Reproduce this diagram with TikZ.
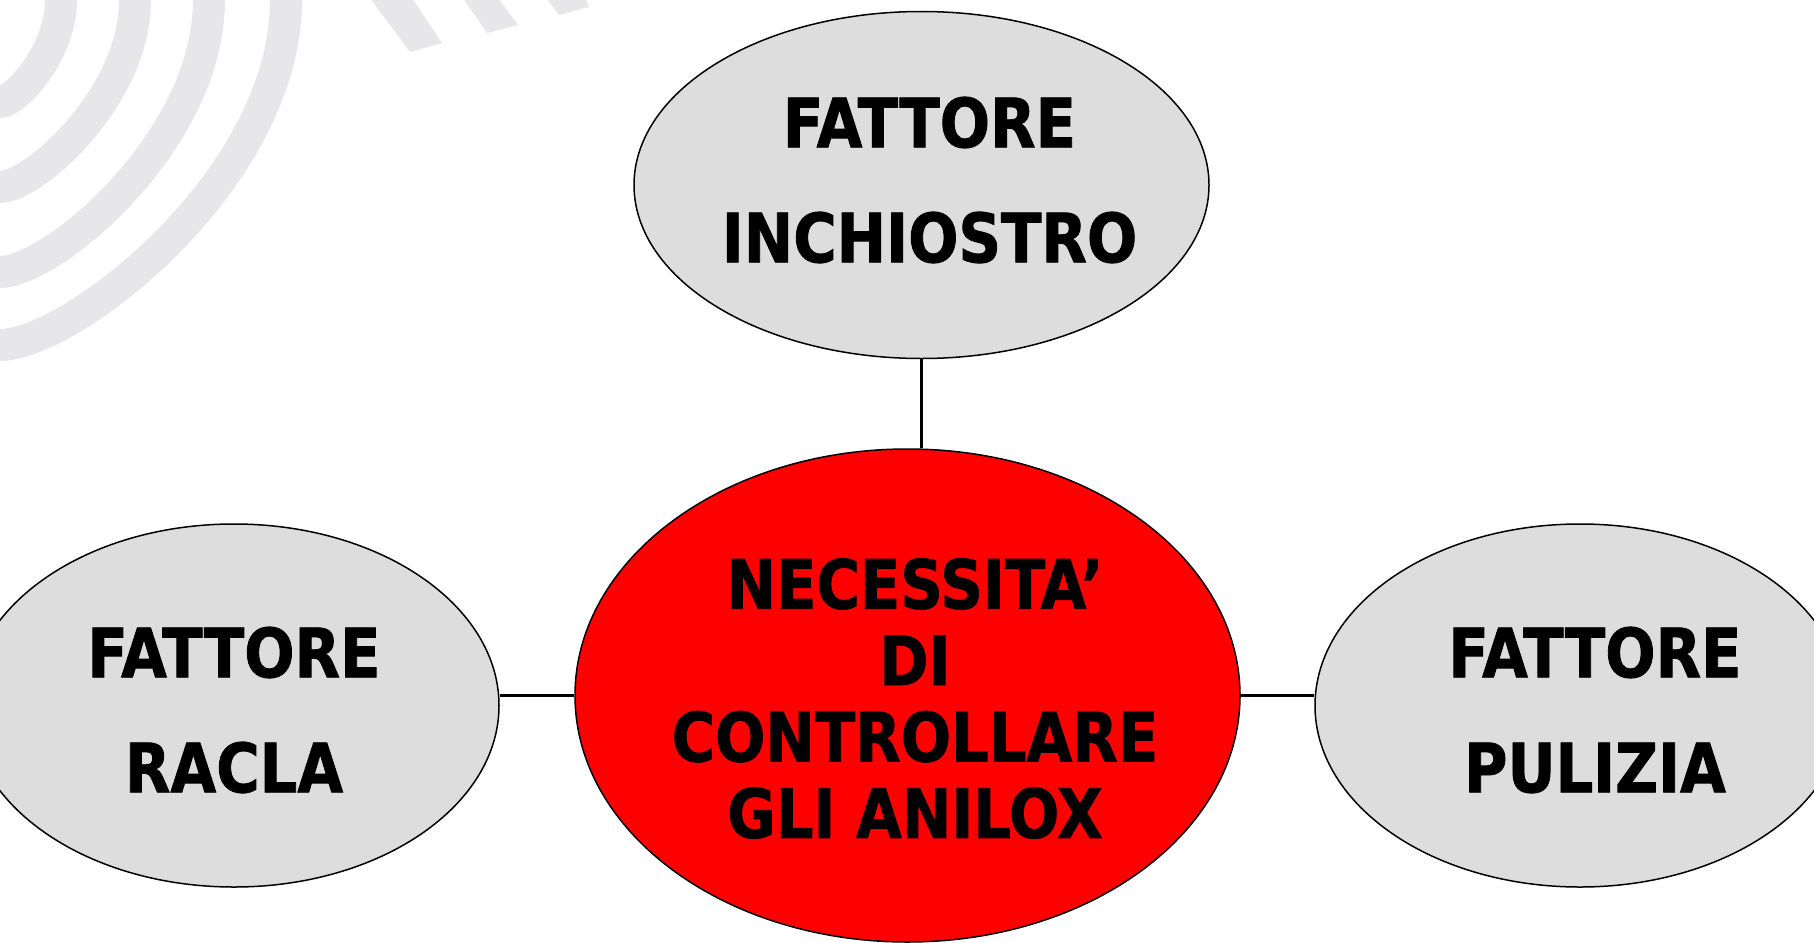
\documentclass[tikz,border=0pt]{standalone}
\usepackage{fontspec}
\setmainfont{DejaVu Sans}[FakeStretch=0.87, BoldFeatures={FakeBold=1.2}]
\usetikzlibrary{shapes.geometric}

\definecolor{logogray}{RGB}{231,231,233}
\definecolor{fattgray}{RGB}{221,221,221}

\begin{document}
\begin{tikzpicture}[x=1pt, y=-1pt,
        fattore/.style={ellipse, draw=black, line width=1.5pt, fill=fattgray, inner sep=0pt},
        centro/.style={ellipse, draw=black, line width=1.5pt, fill=red, inner sep=0pt},
        testo/.style={align=center, inner sep=0pt, font=\bfseries\fontsize{68}{115}\selectfont},
        testoc/.style={align=center, inner sep=0pt, font=\bfseries\fontsize{68}{76.4}\selectfont},
        link/.style={line width=2.3pt}]

    \useasboundingbox (0,0) rectangle (1814,942);
    \clip (0,0) rectangle (1814,942);

    %Logo arcs in the background
    \foreach \xt/\yl in {61/102, 135/187, 209/272, 286/345}
    \draw[logogray, line width=32pt] (\xt,-30) -- (\xt,0)
        .. controls (\xt,0.52*\yl) and (0.25*\xt,\yl) .. (0,\yl) -- (-30,\yl);

    %Logo stripes
    \fill[logogray] (370,-2) -- (410,52) -- (442,43) -- (412,-2) -- cycle;
    \fill[logogray] (463,-2) -- (487,33) -- (518,25) -- (498,-2) -- cycle;
    \fill[logogray] (546,-2) -- (559,15) -- (589,7) -- (585,-2) -- cycle;

    %Ellipses
    \node[fattore, minimum width=575, minimum height=347] (ink) at (921.5,185) {};
    \node[centro, minimum width=665, minimum height=493] (nec) at (907.5,695.5) {};
    \node[fattore, minimum width=530, minimum height=363] (racla) at (234,705.5) {};
    \node[fattore, minimum width=530, minimum height=363] (pul) at (1580,705.5) {};

    %Connectors
    \draw[link] (ink.south) -- (ink.south |- nec.north);
    \draw[link] (nec.west) -- (nec.west -| racla.east);
    \draw[link] (nec.east) -- (nec.east -| pul.west);

    %Labels
    \node[testo] (inktxt) at (929.5,180) {FATTORE\\INCHIOSTRO};
    \node[testoc] (nectxt) at (915,698.5) {NECESSITA’\\DI\\CONTROLLARE\\GLI ANILOX};
    \node[testo] (raclatxt) at (234,710) {FATTORE\\RACLA};
    \node[testo] (pultxt) at (1595,710) {FATTORE\\PULIZIA};

\end{tikzpicture}
\end{document}
